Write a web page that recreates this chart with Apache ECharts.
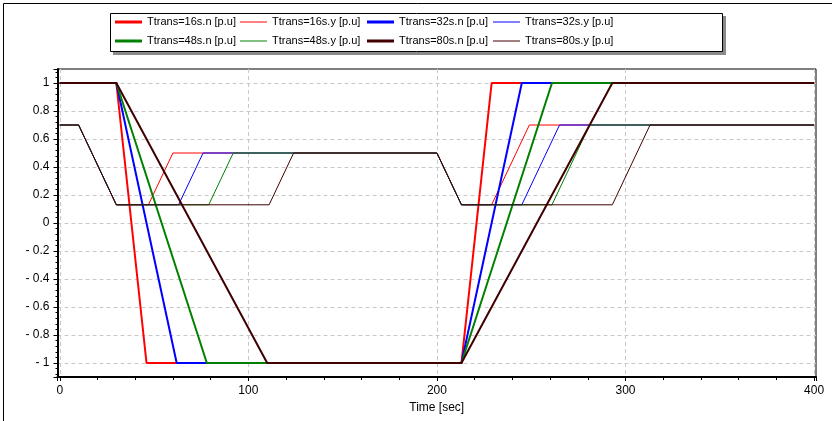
<!DOCTYPE html>
<html>
<head>
<meta charset="utf-8">
<script src="https://cdn.jsdelivr.net/npm/echarts@6/dist/echarts.min.js"></script>
<style>
html,body{margin:0;padding:0;background:#fff;}
#chart{width:832px;height:421px;}
</style>
</head>
<body>
<div id="chart"></div>
<script>
// ---- data ----
const seriesNames = [
  'Ttrans=16s.n [p.u]', 'Ttrans=16s.y [p.u]', 'Ttrans=32s.n [p.u]', 'Ttrans=32s.y [p.u]',
  'Ttrans=48s.n [p.u]', 'Ttrans=48s.y [p.u]', 'Ttrans=80s.n [p.u]', 'Ttrans=80s.y [p.u]'
];
const seriesColors = ['#ff0000', '#ff0000', '#0000ff', '#0000ff', '#008000', '#008000', '#400000', '#400000'];

const t16n = [0, 30, 46, 213, 229, 400];
const v16n = [1, 1, -1, -1, 1, 1];
const t16y = [0, 10, 30, 47, 60, 200, 213, 229, 249, 400];
const v16y = [0.7, 0.7, 0.13, 0.13, 0.5, 0.5, 0.13, 0.13, 0.7, 0.7];

const t32n = [0, 30, 62, 213, 245, 400];
const v32n = [1, 1, -1, -1, 1, 1];
const t32y = [0, 10, 30, 63, 76, 200, 213, 245, 265, 400];
const v32y = [0.7, 0.7, 0.13, 0.13, 0.5, 0.5, 0.13, 0.13, 0.7, 0.7];

const t48n = [0, 30, 78, 213, 261, 400];
const v48n = [1, 1, -1, -1, 1, 1];
const t48y = [0, 10, 30, 79, 92, 200, 213, 261, 281, 400];
const v48y = [0.7, 0.7, 0.13, 0.13, 0.5, 0.5, 0.13, 0.13, 0.7, 0.7];

const t80n = [0, 30, 110, 213, 293, 400];
const v80n = [1, 1, -1, -1, 1, 1];
const t80y = [0, 10, 30, 111, 124, 200, 213, 293, 313, 400];
const v80y = [0.7, 0.7, 0.13, 0.13, 0.5, 0.5, 0.13, 0.13, 0.7, 0.7];

const xTickLabels = ['0', '100', '200', '300', '400'];
const xAxisTitle = 'Time [sec]';

// ---- build ----
const seriesX = [t16n, t16y, t32n, t32y, t48n, t48y, t80n, t80y];
const seriesY = [v16n, v16y, v32n, v32y, v48n, v48y, v80n, v80y];
const FONT = "'Liberation Sans', Arial, sans-serif";

const series = seriesNames.map((name, i) => ({
  name: name,
  type: 'line',
  symbol: 'none',
  animation: false,
  color: seriesColors[i],
  lineStyle: { width: (i % 2 === 0) ? 2 : 1, color: seriesColors[i] },
  data: seriesX[i].map((t, k) => [t, seriesY[i][k]]),
  z: 2 + i
}));

const legendLefts = [115, 240, 367, 493];
const legendTops = [15, 34];
const legends = seriesNames.map((name, i) => {
  const row = Math.floor(i / 4), col = i % 4;
  const thick = (i % 2 === 0);
  return {
    data: [{ name: name, icon: 'rect', itemStyle: { color: seriesColors[i] } }],
    left: legendLefts[col],
    top: legendTops[row],
    orient: 'horizontal',
    padding: 0,
    itemGap: 0,
    itemWidth: 27,
    itemHeight: thick ? 3 : 1,
    selectedMode: false,
    textStyle: { fontFamily: FONT, fontSize: 11, color: '#000', lineHeight: 14, padding: [0, 0, 0, 0] }
  };
});

const chart = echarts.init(document.getElementById('chart'), null, { renderer: 'canvas' });
chart.setOption({
  backgroundColor: '#fff',
  animation: false,
  grid: {
    left: 57.5, right: 16, top: 69, bottom: 44,
    show: true, borderColor: '#000', borderWidth: 1, backgroundColor: '#fff'
  },
  legend: legends,
  graphic: [
    { type: 'line', shape: { x1: 3.5, y1: 3.5, x2: 3.5, y2: 421 }, style: { stroke: '#000', lineWidth: 1 }, z: 100 },
    { type: 'line', shape: { x1: 3.5, y1: 3.5, x2: 832, y2: 3.5 }, style: { stroke: '#000', lineWidth: 1 }, z: 100 },
    { type: 'rect', shape: { x: 113, y: 16, width: 613, height: 39 }, style: { fill: '#8a8a8a' }, z: -1 },
    { type: 'rect', shape: { x: 110.5, y: 13.5, width: 612, height: 38 }, style: { fill: '#fff', stroke: '#000', lineWidth: 1 }, z: 0 }
  ],
  xAxis: {
    type: 'value',
    min: -1.2, max: 401,
    splitNumber: 4,
    name: xAxisTitle,
    nameLocation: 'middle',
    nameGap: 25,
    nameTextStyle: { fontFamily: FONT, fontSize: 12, color: '#000' },
    axisLine: { show: true, onZero: false, lineStyle: { color: '#000', width: 2 } },
    axisTick: { show: true, inside: false, length: 4, lineStyle: { color: '#000' } },
    minorTick: { show: true, splitNumber: 5, length: 3, lineStyle: { color: '#000' } },
    axisLabel: {
      margin: 8, fontFamily: FONT, fontSize: 12, color: '#000',
      formatter: function (v) {
        const idx = xTickLabels.indexOf(String(Math.round(v)));
        return (Math.abs(v - Math.round(v)) < 1e-6 && idx >= 0) ? xTickLabels[idx] : '';
      }
    },
    splitLine: { show: true, showMinLine: false, showMaxLine: false, lineStyle: { color: '#c8c8c8', type: [4, 3], width: 1 } }
  },
  yAxis: {
    type: 'value',
    min: -1.1, max: 1.1,
    splitNumber: 11,
    axisLine: { show: true, onZero: false, lineStyle: { color: '#000', width: 2 } },
    axisTick: { show: true, inside: false, length: 4, lineStyle: { color: '#000' } },
    minorTick: { show: true, splitNumber: 5, length: 2, lineStyle: { color: '#000' } },
    axisLabel: {
      margin: 8, fontFamily: FONT, fontSize: 12, color: '#000',
      formatter: function (v) {
        if (Math.abs(v) > 1.05) return '';
        const r = Math.round(v * 10) / 10;
        if (r === 0) return '0';
        return r < 0 ? '- ' + Math.abs(r) : String(r);
      }
    },
    splitLine: { show: true, showMinLine: false, showMaxLine: false, lineStyle: { color: '#c8c8c8', type: [4, 3], width: 1 } }
  },
  series: series
});
</script>
</body>
</html>
